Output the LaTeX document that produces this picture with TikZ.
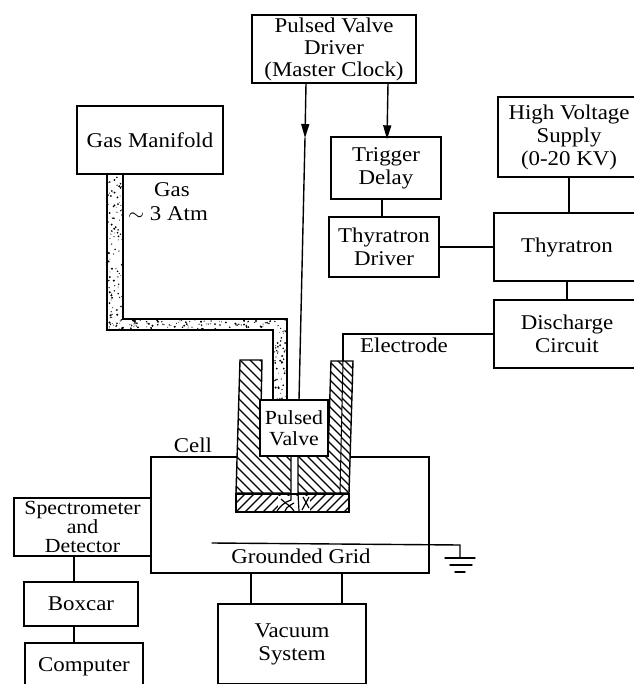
\documentclass[tikz,border=0pt]{standalone}
\usepackage{fontspec}
\setmainfont[FakeStretch=1.09]{Liberation Serif}
\usetikzlibrary{arrows.meta}
\tikzset{
  rig-box/.style={draw=black, fill=white, line width=1.4pt, align=center, inner sep=0pt,
    font=\fontsize{21}{23}\selectfont},
  rig-label/.style={inner sep=0pt, font=\fontsize{21}{23}\selectfont},
  rig-wire/.style={line width=1.4pt, line cap=round},
  rig-hatch/.style={line width=1.3pt}
}
\begin{document}
\begin{tikzpicture}[>=Latex, x=1pt, y=-1pt]
  \useasboundingbox (0,0) rectangle (633,684);

  % Electronics boxes
  \node[rig-box, minimum width=164pt, minimum height=68pt, font=\fontsize{21}{22}\selectfont] (driver) at (334,49)
    {Pulsed Valve\\Driver\\(Master Clock)};
  \node[rig-box, minimum width=110pt, minimum height=62pt] (delay) at (386,168) {Trigger\\Delay};
  \node[rig-box, minimum width=110pt, minimum height=60pt] (thydriver) at (384,247) {Thyratron\\Driver};
  \node[rig-box, minimum width=146pt, minimum height=68pt] (thyratron) at (567,247) {Thyratron};
  \node[rig-box, minimum width=142pt, minimum height=80pt] (supply) at (569,137)
    {High Voltage\\Supply\\(0-20 KV)};
  \node[rig-box, minimum width=146pt, minimum height=68pt] (discharge) at (567,334) {Discharge\\Circuit};
  \node[rig-box, minimum width=146pt, minimum height=68pt] (manifold) at (150,140) {Gas Manifold};

  % Cell and the boxes round it
  \node[rig-box, minimum width=278pt, minimum height=116pt] (cell) at (290,515) {};
  \node[rig-box, minimum width=137pt, minimum height=58pt, font=\fontsize{20}{19}\selectfont] (spectro) at (82.5,527)
    {Spectrometer\\and\\Detector};
  \node[rig-box, minimum width=114pt, minimum height=44pt] (boxcar) at (81,604) {Boxcar};
  \node[rig-box, minimum width=118pt, minimum height=48pt] (computer) at (84,667) {Computer};
  \node[rig-box, minimum width=148pt, minimum height=80pt] (vacuum) at (292,644) {Vacuum\\System};

  \draw[rig-wire] ([xshift=-7pt]boxcar.north) -- ([xshift=-7pt]boxcar.north |- spectro.south);
  \draw[rig-wire] ([xshift=-7pt]boxcar.south) -- ([xshift=-7pt]boxcar.south |- computer.north);
  \draw[rig-wire] ([xshift=-41pt]vacuum.north) -- ([xshift=-41pt]vacuum.north |- cell.south);
  \draw[rig-wire] ([xshift=50pt]vacuum.north) -- ([xshift=50pt]vacuum.north |- cell.south);
  \draw[rig-wire] (thydriver.east) -- (thyratron.west |- thydriver.east);
  \draw[rig-wire] (supply.south) -- (supply.south |- thyratron.north);
  \draw[rig-wire] (discharge.north) -- (discharge.north |- thyratron.south);
  \draw[rig-wire] ([xshift=-4pt]delay.south) -- ([xshift=-4pt]delay.south |- thydriver.north);
  \draw[-{Triangle[length=14pt,width=8pt]}, rig-wire] ([xshift=54pt]driver.south) -- ([xshift=1pt,yshift=-3pt]delay.north);

  % Gas line
  \draw[line width=1.4pt, fill=white] (107,174) -- (123,174) -- (123,319) -- (287,319) -- (287,400)
    -- (273,400) -- (273,330) -- (107,330) -- cycle;
  \pgfmathsetseed{7}
  \foreach \xa/\xb/\ya/\yb/\dotcount in {108/122/175/329/100, 108/286/320/329/110, 274/286/330/399/50} {
    \foreach \i in {1,...,\dotcount} {
      \pgfmathsetmacro{\dotx}{\xa+rnd*(\xb-\xa)}
      \pgfmathsetmacro{\doty}{\ya+rnd*(\yb-\ya)}
      \pgfmathsetmacro{\dotr}{0.35+rnd*0.8}
      \fill (\dotx,\doty) circle (\dotr pt);
    }
  }

  % Valve body
  \begin{scope}
    \clip (240,360) -- (262,360) -- (260,456) -- (291,456) -- (291,493) -- (236,493) -- cycle;
    \fill[white] (230,350) rectangle (300,500);
    \foreach \d in {50,60,...,260}
      \draw[rig-hatch] (\d,350) -- ++(160,160);
  \end{scope}
  \begin{scope}
    \clip (298,456) -- (328,456) -- (331,361) -- (343,361) -- (340,493) -- (298,493) -- cycle;
    \fill[white] (290,350) rectangle (350,500);
    \foreach \d in {120,129,...,345}
      \draw[rig-hatch] (\d,350) -- ++(160,160);
  \end{scope}
  \begin{scope}
    \clip (343,361) -- (353,361) -- (349,493) -- (340,493) -- cycle;
    \fill[white] (335,350) rectangle (360,500);
    \foreach \d in {190,198,...,350}
      \draw[rig-hatch] (\d,350) -- ++(160,160);
  \end{scope}
  \fill[white] (291,456) rectangle (298,494);
  \begin{scope}
    \clip (236,494) rectangle (349,512);
    \fill[white] (236,494) rectangle (349,512);
    \foreach \d in {245,254,...,380}
      \draw[rig-hatch] (\d,494) -- ++(-18,18);
  \end{scope}
  \draw[line width=1.4pt] (240,360) -- (262,360) -- (260,456) -- (291,456) -- (291,493) -- (236,493) -- cycle;
  \draw[line width=1.4pt] (298,456) -- (328,456) -- (331,361) -- (353,361) -- (349,493) -- (298,493) -- cycle;
  \draw[line width=1pt] (343,361) -- (340,493);
  \draw[line width=1.4pt] (236,494) rectangle (349,512);
  \draw[line width=2pt] (236,493.5) -- (349,493.5);
  \node[rig-box, minimum width=68pt, minimum height=56pt, font=\fontsize{20}{21}\selectfont] (valve) at (294,428)
    {Pulsed\\Valve};

  % Nozzle
  \fill[white] (278,496) rectangle (310,511);
  \draw[line width=1.2pt] (291,494) -- (291,500) .. controls (284,502) and (280,507) .. (277,511);
  \draw[line width=1.2pt] (298,494) -- (299,511) (303,497) -- (309,508) (309,497) -- (302,510);
  \draw[line width=1.2pt] (281,499) .. controls (286,504) and (291,506) .. (294,511);
  \draw[line width=1.2pt] (285,511) .. controls (287,506) and (291,505) .. (294,503);

  % Timing line into the valve
  \coordinate (tip) at (305,138);
  \draw[-{Triangle[length=14pt,width=8pt]}, rig-wire] ([xshift=-28pt]driver.south) -- (tip);
  \draw[rig-wire] (tip) -- (299,400);

  % Electrode lead
  \coordinate (lead) at (343,361);
  \draw[rig-wire] (discharge.west) -- (lead |- discharge.west) -- (lead);

  % Grounded grid
  \coordinate (grid-west) at (212,543);
  \coordinate (grid-east) at (460,545);
  \coordinate (ground) at (460,558);
  \draw[rig-wire] (grid-west) -- (grid-east) -- (ground);
  \draw[rig-wire] ([xshift=-15pt]ground) -- ([xshift=15pt]ground);
  \draw[rig-wire] ([xshift=-10pt,yshift=-7pt]ground) -- ([xshift=12pt,yshift=-7pt]ground);
  \draw[rig-wire] ([xshift=-5pt,yshift=-14pt]ground) -- ([xshift=5pt,yshift=-14pt]ground);

  % Labels
  \node[rig-label] (gas) at (172,190) {Gas};
  \node[rig-label] (pressure) at (168,214) {\(\sim\) 3 Atm};
  \node[rig-label] (electrode) at (404,345) {Electrode};
  \node[rig-label] (celltext) at (193,445) {Cell};
  \node[rig-label] (gridtext) at (301,556) {Grounded Grid};
\end{tikzpicture}
\end{document}
